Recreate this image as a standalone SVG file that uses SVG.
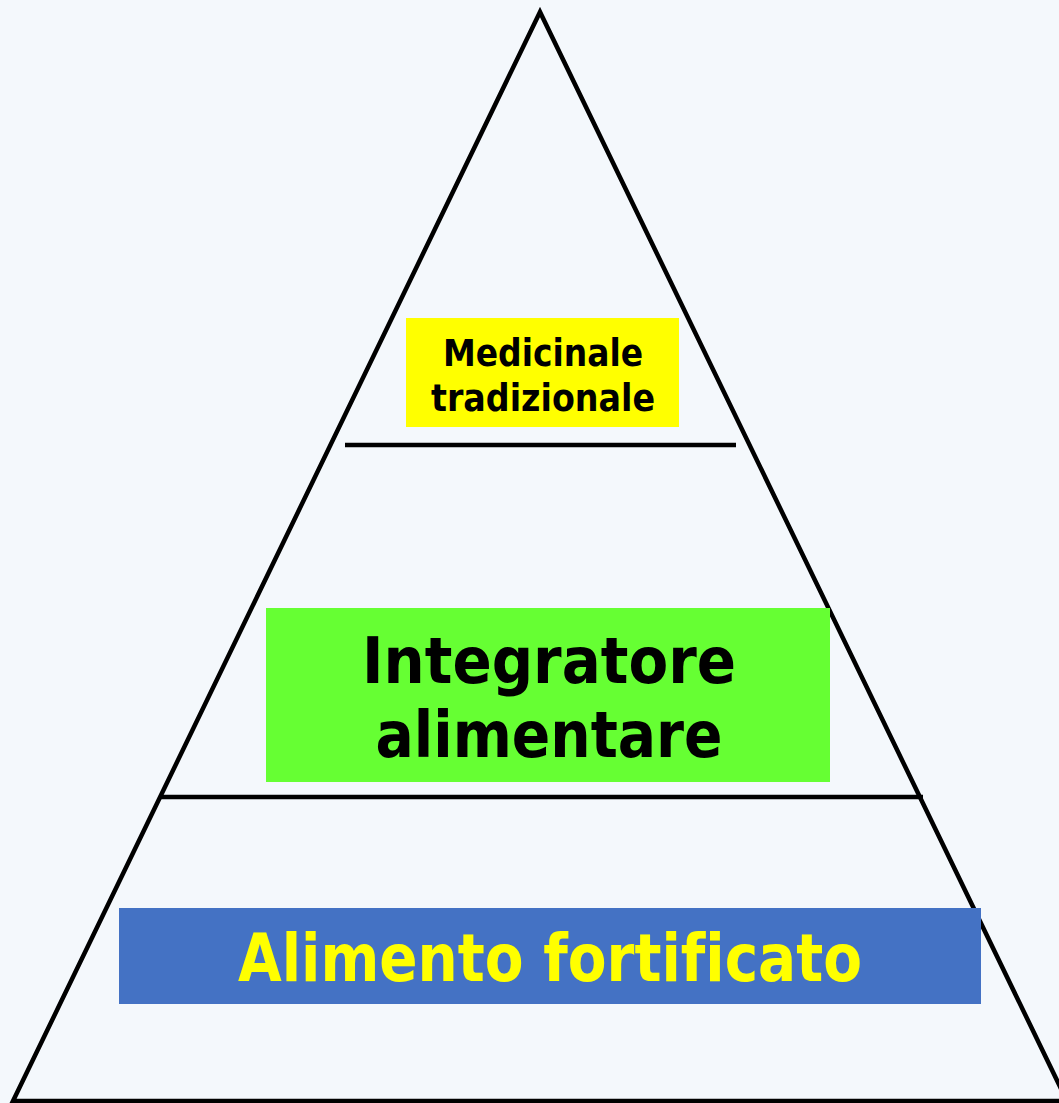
<svg xmlns="http://www.w3.org/2000/svg" width="1059" height="1103" viewBox="0 0 1059 1103">
<style>
.ln{stroke:#000;stroke-width:4.5;fill:none}
.t{font-family:"DejaVu Sans Condensed","DejaVu Sans",sans-serif;font-weight:bold;text-anchor:middle;font-variant-ligatures:none;font-feature-settings:"liga" 0}
</style>
<rect width="1059" height="1103" fill="#F4F8FC"/>
<g id="connectors">
<polygon class="ln" points="540,12 13,1101 1067,1101"/>
<line class="ln" x1="345" y1="445" x2="736" y2="445"/>
<line class="ln" x1="159" y1="797" x2="923" y2="797"/>
</g>
<g id="node-medicinale">
<rect x="406" y="318" width="273" height="109" fill="#FFFF00"/>
<text class="t" x="543" y="366" font-size="37" textLength="200" lengthAdjust="spacingAndGlyphs">Medicinale</text>
<text class="t" x="543" y="411" font-size="37" textLength="224" lengthAdjust="spacingAndGlyphs">tradizionale</text>
</g>
<g id="node-integratore">
<rect x="266" y="608" width="564" height="174" fill="#66FF33"/>
<text class="t" x="549" y="683" font-size="64" textLength="374" lengthAdjust="spacingAndGlyphs">Integratore</text>
<text class="t" x="549" y="757" font-size="64" textLength="347" lengthAdjust="spacingAndGlyphs">alimentare</text>
</g>
<g id="node-alimento">
<rect x="119" y="908" width="862" height="96" fill="#4472C4"/>
<text class="t" x="550" y="981" font-size="65" fill="#FFFF00" textLength="624" lengthAdjust="spacingAndGlyphs">Alimento fortificato</text>
</g>
</svg>
